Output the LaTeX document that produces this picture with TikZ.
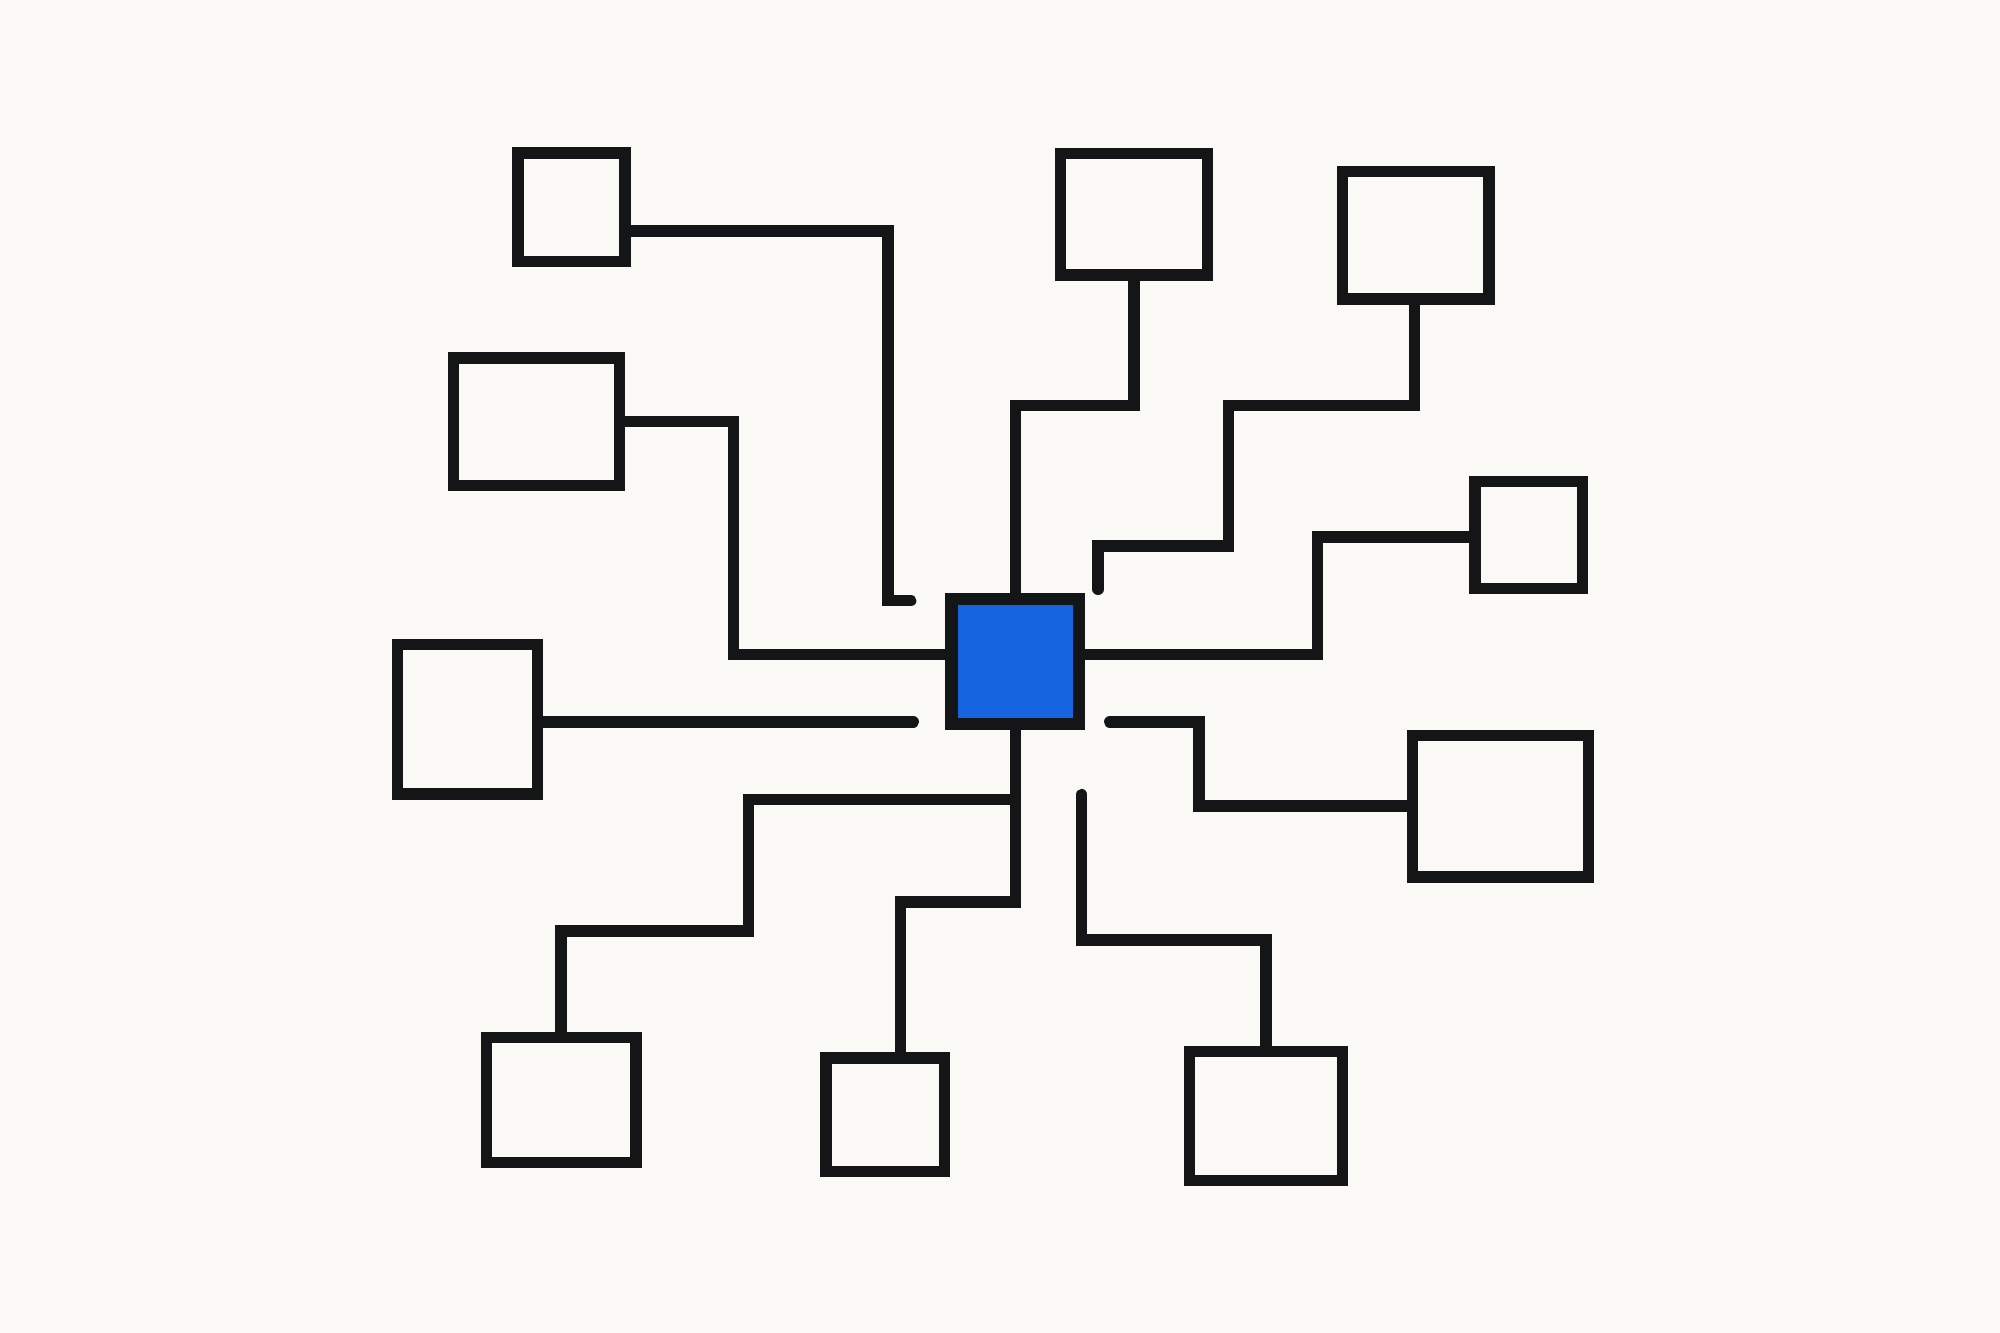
\documentclass[tikz,border=0pt]{standalone}
\usetikzlibrary{calc}
\definecolor{bgc}{HTML}{FAF9F6}
\definecolor{ink}{HTML}{131517}
\definecolor{hub}{HTML}{1565E0}
\begin{document}
\begin{tikzpicture}[x=0.1mm,y=-0.1mm,
  conn/.style={draw=ink,line width=0.9mm,line cap=round,line join=miter},
  frame/.style={draw=ink,fill=bgc,line width=0.9mm,rectangle,inner sep=0pt,outer sep=0pt},
  hubbox/.style={frame,fill=hub,line width=0.95mm}]
\fill[bgc] (0,0) rectangle (1568,1045);
\useasboundingbox (0,0) rectangle (1568,1045);
% free ends
\coordinate (e1) at (714,471);
\coordinate (e3) at (716,566);
\coordinate (e6) at (848,623);
\coordinate (e7) at (870,566);
\coordinate (e9) at (861,462);
% nodes placed first (invisible reference), drawn after connectors
\path
  node[frame,draw=none,fill=none,minimum width=10mm,minimum height=9.8mm] (c) at (796,518.5) {}
  node[frame,draw=none,fill=none,minimum width=8.4mm,minimum height=8.5mm] (b1) at (448,162.5) {}
  node[frame,draw=none,fill=none,minimum width=13mm,minimum height=10mm] (b2) at (420.5,330.5) {}
  node[frame,draw=none,fill=none,minimum width=11mm,minimum height=11.7mm] (b3) at (366.5,564) {}
  node[frame,draw=none,fill=none,minimum width=11.7mm,minimum height=9.8mm] (b4) at (440,862.5) {}
  node[frame,draw=none,fill=none,minimum width=9.3mm,minimum height=8.9mm] (b5) at (694,874) {}
  node[frame,draw=none,fill=none,minimum width=12mm,minimum height=10.1mm] (b6) at (992.5,875) {}
  node[frame,draw=none,fill=none,minimum width=13.8mm,minimum height=11.1mm] (b7) at (1176.5,632) {}
  node[frame,draw=none,fill=none,minimum width=8.4mm,minimum height=8.4mm] (b8) at (1198.5,419.5) {}
  node[frame,draw=none,fill=none,minimum width=11.5mm,minimum height=10mm] (b9) at (1110,184.5) {}
  node[frame,draw=none,fill=none,minimum width=11.5mm,minimum height=9.5mm] (b10) at (889,168) {};
% connectors
\draw[conn] ($(b1.east)+(0,18.5)$) -| (696,471) -- (e1);
\draw[conn] (b2.east) -| (575,513) -- ($(c.west)+(0,-5.5)$);
\draw[conn] ($(b3.east)+(0,2)$) -- (e3);
\draw[conn] (b4.north) |- (587,730) |- (796,627);
\draw[conn] (c.south) |- (706,707) -- ($(b5.north)+(12,0)$);
\draw[conn] (b6.north) |- (848,737) -- (e6);
\draw[conn] (b7.west) -| (940,566) -- (e7);
\draw[conn] ($(b8.west)+(0,1.5)$) -| (1033,513) -- ($(c.east)+(0,-5.5)$);
\draw[conn] ($(b9.south)+(-1,0)$) |- (963,318) |- (861,428) -- (e9);
\draw[conn] (b10.south) |- (796,318) -- (c.north);
% boxes on top
\foreach \n in {b1,b2,b3,b4,b5,b6,b7,b8,b9,b10}
  \draw[draw=ink,fill=bgc,line width=0.9mm] (\n.north west) rectangle (\n.south east);
\draw[draw=ink,fill=hub,line width=0.95mm] (c.north west) rectangle (c.south east);
\end{tikzpicture}
\end{document}
